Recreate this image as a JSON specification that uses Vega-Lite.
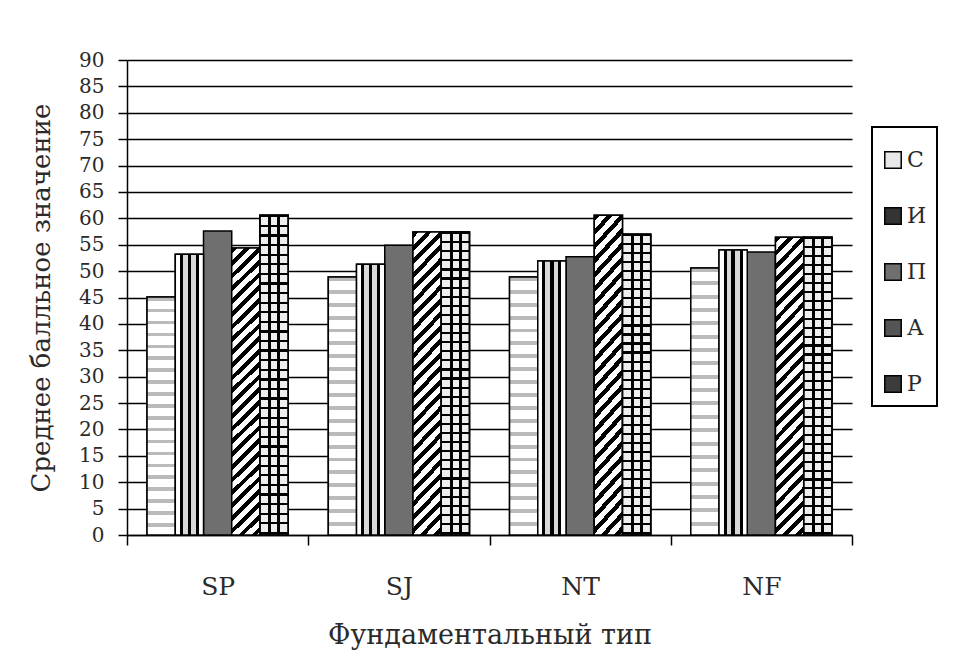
{
"$schema": "https://vega.github.io/schema/vega-lite/v6.json",
"width": 725,
"height": 475,
"autosize": "none",
"padding": {"left": 127, "top": 60, "right": 111, "bottom": 129},
"background": "white",
"config": {"view": {"stroke": null}},
"data": {"values": [
{"t": "SP", "s": "С", "v": 45.1}, {"t": "SP", "s": "И", "v": 53.2}, {"t": "SP", "s": "П", "v": 57.6}, {"t": "SP", "s": "А", "v": 54.4}, {"t": "SP", "s": "Р", "v": 60.6},
{"t": "SJ", "s": "С", "v": 48.9}, {"t": "SJ", "s": "И", "v": 51.3}, {"t": "SJ", "s": "П", "v": 54.9}, {"t": "SJ", "s": "А", "v": 57.4}, {"t": "SJ", "s": "Р", "v": 57.4},
{"t": "NT", "s": "С", "v": 48.9}, {"t": "NT", "s": "И", "v": 51.9}, {"t": "NT", "s": "П", "v": 52.7}, {"t": "NT", "s": "А", "v": 60.6}, {"t": "NT", "s": "Р", "v": 57.0},
{"t": "NF", "s": "С", "v": 50.6}, {"t": "NF", "s": "И", "v": 54.0}, {"t": "NF", "s": "П", "v": 53.6}, {"t": "NF", "s": "А", "v": 56.4}, {"t": "NF", "s": "Р", "v": 56.4}
]},
"encoding": {
"x": {"field": "t", "type": "nominal", "sort": ["SP", "SJ", "NT", "NF"],
 "scale": {"paddingInner": 0, "paddingOuter": 0},
 "axis": {"title": "Фундаментальный тип", "tickBand": "extent", "labelAngle": 0, "grid": false,
  "domainColor": "#000", "domainWidth": 1.5, "tickColor": "#000", "tickWidth": 1.5, "tickSize": 10,
  "labelFont": "DejaVu Serif", "labelFontSize": 25, "labelColor": "#2a2a2a", "labelPadding": 29,
  "titleFont": "DejaVu Serif", "titleFontSize": 27, "titleFontWeight": "normal", "titleColor": "#2a2a2a", "titlePadding": 23}},
"xOffset": {"field": "s", "type": "nominal", "sort": ["С", "И", "П", "А", "Р"],
 "scale": {"domain": ["С", "И", "П", "А", "Р"], "paddingInner": 0, "paddingOuter": 0.71}},
"y": {"field": "v", "type": "quantitative", "scale": {"domain": [0, 90], "nice": false},
 "axis": {"title": "Среднее балльное значение", "values": [0,5,10,15,20,25,30,35,40,45,50,55,60,65,70,75,80,85,90],
  "grid": true, "gridColor": "#000", "gridWidth": 1.5, "gridOpacity": 1, "labelOverlap": false,
  "domainColor": "#000", "domainWidth": 1.5, "tickColor": "#000", "tickWidth": 1.5, "tickSize": 9,
  "labelFont": "DejaVu Serif", "labelFontSize": 20, "labelColor": "#2a2a2a", "labelPadding": 14,
  "titleFont": "DejaVu Serif", "titleFontSize": 26, "titleFontWeight": "normal", "titleColor": "#2a2a2a", "titlePadding": 24}}
},
"layer": [
{"mark": {"type": "bar", "stroke": "#000", "strokeWidth": 1.5},
 "encoding": {"fill": {"field": "s", "type": "nominal",
  "scale": {"domain": ["С", "И", "П", "А", "Р"], "range": ["#e8e8e8", "#333333", "#6f6f6f", "#555555", "#3c3c3c"]},
  "legend": {"title": " ", "titleFontSize": 10, "titlePadding": 2, "orient": "none", "legendX": 745, "legendY": 67,
   "strokeColor": "#000", "fillColor": "white", "padding": 10,
   "symbolType": "square", "symbolSize": 270, "symbolStrokeColor": "#000", "symbolStrokeWidth": 1.5, "symbolOpacity": 1,
   "labelFont": "DejaVu Serif", "labelFontSize": 22, "labelColor": "#2a2a2a", "labelOffset": 3, "rowPadding": 32,
   "encode": {"legend": {"update": {"strokeWidth": {"value": 2}}}}}}}},
{"transform": [{"filter": "datum.s === 'С'"}],
 "mark": {"type": "bar", "stroke": "#000", "strokeWidth": 1.5,
  "fill": {"gradient": "linear", "x1": 0, "y1": 0, "x2": 0, "y2": 1, "stops": [
{"offset":0,"color":"#bbb"},{"offset":0.015,"color":"#bbb"},{"offset":0.015,"color":"#fff"},{"offset":0.05,"color":"#fff"},
{"offset":0.05,"color":"#bbb"},{"offset":0.065,"color":"#bbb"},{"offset":0.065,"color":"#fff"},{"offset":0.1,"color":"#fff"},
{"offset":0.1,"color":"#bbb"},{"offset":0.115,"color":"#bbb"},{"offset":0.115,"color":"#fff"},{"offset":0.15,"color":"#fff"},
{"offset":0.15,"color":"#bbb"},{"offset":0.165,"color":"#bbb"},{"offset":0.165,"color":"#fff"},{"offset":0.2,"color":"#fff"},
{"offset":0.2,"color":"#bbb"},{"offset":0.215,"color":"#bbb"},{"offset":0.215,"color":"#fff"},{"offset":0.25,"color":"#fff"},
{"offset":0.25,"color":"#bbb"},{"offset":0.265,"color":"#bbb"},{"offset":0.265,"color":"#fff"},{"offset":0.3,"color":"#fff"},
{"offset":0.3,"color":"#bbb"},{"offset":0.315,"color":"#bbb"},{"offset":0.315,"color":"#fff"},{"offset":0.35,"color":"#fff"},
{"offset":0.35,"color":"#bbb"},{"offset":0.365,"color":"#bbb"},{"offset":0.365,"color":"#fff"},{"offset":0.4,"color":"#fff"},
{"offset":0.4,"color":"#bbb"},{"offset":0.415,"color":"#bbb"},{"offset":0.415,"color":"#fff"},{"offset":0.45,"color":"#fff"},
{"offset":0.45,"color":"#bbb"},{"offset":0.465,"color":"#bbb"},{"offset":0.465,"color":"#fff"},{"offset":0.5,"color":"#fff"},
{"offset":0.5,"color":"#bbb"},{"offset":0.515,"color":"#bbb"},{"offset":0.515,"color":"#fff"},{"offset":0.55,"color":"#fff"},
{"offset":0.55,"color":"#bbb"},{"offset":0.565,"color":"#bbb"},{"offset":0.565,"color":"#fff"},{"offset":0.6,"color":"#fff"},
{"offset":0.6,"color":"#bbb"},{"offset":0.615,"color":"#bbb"},{"offset":0.615,"color":"#fff"},{"offset":0.65,"color":"#fff"},
{"offset":0.65,"color":"#bbb"},{"offset":0.665,"color":"#bbb"},{"offset":0.665,"color":"#fff"},{"offset":0.7,"color":"#fff"},
{"offset":0.7,"color":"#bbb"},{"offset":0.715,"color":"#bbb"},{"offset":0.715,"color":"#fff"},{"offset":0.75,"color":"#fff"},
{"offset":0.75,"color":"#bbb"},{"offset":0.765,"color":"#bbb"},{"offset":0.765,"color":"#fff"},{"offset":0.8,"color":"#fff"},
{"offset":0.8,"color":"#bbb"},{"offset":0.815,"color":"#bbb"},{"offset":0.815,"color":"#fff"},{"offset":0.85,"color":"#fff"},
{"offset":0.85,"color":"#bbb"},{"offset":0.865,"color":"#bbb"},{"offset":0.865,"color":"#fff"},{"offset":0.9,"color":"#fff"},
{"offset":0.9,"color":"#bbb"},{"offset":0.915,"color":"#bbb"},{"offset":0.915,"color":"#fff"},{"offset":0.95,"color":"#fff"},
{"offset":0.95,"color":"#bbb"},{"offset":0.965,"color":"#bbb"},{"offset":0.965,"color":"#fff"},{"offset":1,"color":"#fff"}
]}}},
{"transform": [{"filter": "datum.s === 'И'"}],
 "mark": {"type": "bar", "stroke": "#000", "strokeWidth": 1.5,
  "fill": {"gradient": "linear", "x1": 0, "y1": 0, "x2": 1, "y2": 0, "stops": [
{"offset":0,"color":"#fff"},{"offset":0.16,"color":"#fff"},{"offset":0.16,"color":"#000"},{"offset":0.27,"color":"#000"},
{"offset":0.27,"color":"#d8d8d8"},{"offset":0.44,"color":"#d8d8d8"},{"offset":0.44,"color":"#000"},{"offset":0.56,"color":"#000"},
{"offset":0.56,"color":"#d8d8d8"},{"offset":0.73,"color":"#d8d8d8"},{"offset":0.73,"color":"#000"},{"offset":0.84,"color":"#000"},
{"offset":0.84,"color":"#fff"},{"offset":1,"color":"#fff"}
]}}},
{"transform": [{"filter": "datum.s === 'А'"}],
 "mark": {"type": "bar", "stroke": "#000", "strokeWidth": 1.5,
  "fill": {"gradient": "linear", "x1": 0, "y1": 0, "x2": 0.106, "y2": 1.1, "stops": [
{"offset":0,"color":"#000"},{"offset":0.018,"color":"#000"},{"offset":0.018,"color":"#fff"},{"offset":0.04,"color":"#fff"},
{"offset":0.04,"color":"#000"},{"offset":0.058,"color":"#000"},{"offset":0.058,"color":"#fff"},{"offset":0.08,"color":"#fff"},
{"offset":0.08,"color":"#000"},{"offset":0.098,"color":"#000"},{"offset":0.098,"color":"#fff"},{"offset":0.12,"color":"#fff"},
{"offset":0.12,"color":"#000"},{"offset":0.138,"color":"#000"},{"offset":0.138,"color":"#fff"},{"offset":0.16,"color":"#fff"},
{"offset":0.16,"color":"#000"},{"offset":0.178,"color":"#000"},{"offset":0.178,"color":"#fff"},{"offset":0.2,"color":"#fff"},
{"offset":0.2,"color":"#000"},{"offset":0.218,"color":"#000"},{"offset":0.218,"color":"#fff"},{"offset":0.24,"color":"#fff"},
{"offset":0.24,"color":"#000"},{"offset":0.258,"color":"#000"},{"offset":0.258,"color":"#fff"},{"offset":0.28,"color":"#fff"},
{"offset":0.28,"color":"#000"},{"offset":0.298,"color":"#000"},{"offset":0.298,"color":"#fff"},{"offset":0.32,"color":"#fff"},
{"offset":0.32,"color":"#000"},{"offset":0.338,"color":"#000"},{"offset":0.338,"color":"#fff"},{"offset":0.36,"color":"#fff"},
{"offset":0.36,"color":"#000"},{"offset":0.378,"color":"#000"},{"offset":0.378,"color":"#fff"},{"offset":0.4,"color":"#fff"},
{"offset":0.4,"color":"#000"},{"offset":0.418,"color":"#000"},{"offset":0.418,"color":"#fff"},{"offset":0.44,"color":"#fff"},
{"offset":0.44,"color":"#000"},{"offset":0.458,"color":"#000"},{"offset":0.458,"color":"#fff"},{"offset":0.48,"color":"#fff"},
{"offset":0.48,"color":"#000"},{"offset":0.498,"color":"#000"},{"offset":0.498,"color":"#fff"},{"offset":0.52,"color":"#fff"},
{"offset":0.52,"color":"#000"},{"offset":0.538,"color":"#000"},{"offset":0.538,"color":"#fff"},{"offset":0.56,"color":"#fff"},
{"offset":0.56,"color":"#000"},{"offset":0.578,"color":"#000"},{"offset":0.578,"color":"#fff"},{"offset":0.6,"color":"#fff"},
{"offset":0.6,"color":"#000"},{"offset":0.618,"color":"#000"},{"offset":0.618,"color":"#fff"},{"offset":0.64,"color":"#fff"},
{"offset":0.64,"color":"#000"},{"offset":0.658,"color":"#000"},{"offset":0.658,"color":"#fff"},{"offset":0.68,"color":"#fff"},
{"offset":0.68,"color":"#000"},{"offset":0.698,"color":"#000"},{"offset":0.698,"color":"#fff"},{"offset":0.72,"color":"#fff"},
{"offset":0.72,"color":"#000"},{"offset":0.738,"color":"#000"},{"offset":0.738,"color":"#fff"},{"offset":0.76,"color":"#fff"},
{"offset":0.76,"color":"#000"},{"offset":0.778,"color":"#000"},{"offset":0.778,"color":"#fff"},{"offset":0.8,"color":"#fff"},
{"offset":0.8,"color":"#000"},{"offset":0.818,"color":"#000"},{"offset":0.818,"color":"#fff"},{"offset":0.84,"color":"#fff"},
{"offset":0.84,"color":"#000"},{"offset":0.858,"color":"#000"},{"offset":0.858,"color":"#fff"},{"offset":0.88,"color":"#fff"},
{"offset":0.88,"color":"#000"},{"offset":0.898,"color":"#000"},{"offset":0.898,"color":"#fff"},{"offset":0.92,"color":"#fff"},
{"offset":0.92,"color":"#000"},{"offset":0.938,"color":"#000"},{"offset":0.938,"color":"#fff"},{"offset":0.96,"color":"#fff"},
{"offset":0.96,"color":"#000"},{"offset":0.978,"color":"#000"},{"offset":0.978,"color":"#fff"},{"offset":1,"color":"#fff"}
]}}},
{"transform": [{"filter": "datum.s === 'Р'"}],
 "mark": {"type": "bar", "stroke": "#000", "strokeWidth": 1.5,
  "fill": {"gradient": "linear", "x1": 0, "y1": 0, "x2": 0, "y2": 1, "stops": [
{"offset":0,"color":"#000"},{"offset":0.007,"color":"#000"},{"offset":0.007,"color":"#eee"},{"offset":0.03,"color":"#eee"},
{"offset":0.03,"color":"#000"},{"offset":0.037,"color":"#000"},{"offset":0.037,"color":"#eee"},{"offset":0.06,"color":"#eee"},
{"offset":0.06,"color":"#000"},{"offset":0.067,"color":"#000"},{"offset":0.067,"color":"#eee"},{"offset":0.09,"color":"#eee"},
{"offset":0.09,"color":"#000"},{"offset":0.097,"color":"#000"},{"offset":0.097,"color":"#eee"},{"offset":0.12,"color":"#eee"},
{"offset":0.12,"color":"#000"},{"offset":0.127,"color":"#000"},{"offset":0.127,"color":"#eee"},{"offset":0.15,"color":"#eee"},
{"offset":0.15,"color":"#000"},{"offset":0.157,"color":"#000"},{"offset":0.157,"color":"#eee"},{"offset":0.18,"color":"#eee"},
{"offset":0.18,"color":"#000"},{"offset":0.187,"color":"#000"},{"offset":0.187,"color":"#eee"},{"offset":0.21,"color":"#eee"},
{"offset":0.21,"color":"#000"},{"offset":0.217,"color":"#000"},{"offset":0.217,"color":"#eee"},{"offset":0.24,"color":"#eee"},
{"offset":0.24,"color":"#000"},{"offset":0.247,"color":"#000"},{"offset":0.247,"color":"#eee"},{"offset":0.27,"color":"#eee"},
{"offset":0.27,"color":"#000"},{"offset":0.277,"color":"#000"},{"offset":0.277,"color":"#eee"},{"offset":0.3,"color":"#eee"},
{"offset":0.3,"color":"#000"},{"offset":0.307,"color":"#000"},{"offset":0.307,"color":"#eee"},{"offset":0.33,"color":"#eee"},
{"offset":0.33,"color":"#000"},{"offset":0.337,"color":"#000"},{"offset":0.337,"color":"#eee"},{"offset":0.36,"color":"#eee"},
{"offset":0.36,"color":"#000"},{"offset":0.367,"color":"#000"},{"offset":0.367,"color":"#eee"},{"offset":0.39,"color":"#eee"},
{"offset":0.39,"color":"#000"},{"offset":0.397,"color":"#000"},{"offset":0.397,"color":"#eee"},{"offset":0.42,"color":"#eee"},
{"offset":0.42,"color":"#000"},{"offset":0.427,"color":"#000"},{"offset":0.427,"color":"#eee"},{"offset":0.45,"color":"#eee"},
{"offset":0.45,"color":"#000"},{"offset":0.457,"color":"#000"},{"offset":0.457,"color":"#eee"},{"offset":0.48,"color":"#eee"},
{"offset":0.48,"color":"#000"},{"offset":0.487,"color":"#000"},{"offset":0.487,"color":"#eee"},{"offset":0.51,"color":"#eee"},
{"offset":0.51,"color":"#000"},{"offset":0.517,"color":"#000"},{"offset":0.517,"color":"#eee"},{"offset":0.54,"color":"#eee"},
{"offset":0.54,"color":"#000"},{"offset":0.547,"color":"#000"},{"offset":0.547,"color":"#eee"},{"offset":0.57,"color":"#eee"},
{"offset":0.57,"color":"#000"},{"offset":0.577,"color":"#000"},{"offset":0.577,"color":"#eee"},{"offset":0.6,"color":"#eee"},
{"offset":0.6,"color":"#000"},{"offset":0.607,"color":"#000"},{"offset":0.607,"color":"#eee"},{"offset":0.63,"color":"#eee"},
{"offset":0.63,"color":"#000"},{"offset":0.637,"color":"#000"},{"offset":0.637,"color":"#eee"},{"offset":0.66,"color":"#eee"},
{"offset":0.66,"color":"#000"},{"offset":0.667,"color":"#000"},{"offset":0.667,"color":"#eee"},{"offset":0.69,"color":"#eee"},
{"offset":0.69,"color":"#000"},{"offset":0.697,"color":"#000"},{"offset":0.697,"color":"#eee"},{"offset":0.72,"color":"#eee"},
{"offset":0.72,"color":"#000"},{"offset":0.727,"color":"#000"},{"offset":0.727,"color":"#eee"},{"offset":0.75,"color":"#eee"},
{"offset":0.75,"color":"#000"},{"offset":0.757,"color":"#000"},{"offset":0.757,"color":"#eee"},{"offset":0.78,"color":"#eee"},
{"offset":0.78,"color":"#000"},{"offset":0.787,"color":"#000"},{"offset":0.787,"color":"#eee"},{"offset":0.81,"color":"#eee"},
{"offset":0.81,"color":"#000"},{"offset":0.817,"color":"#000"},{"offset":0.817,"color":"#eee"},{"offset":0.84,"color":"#eee"},
{"offset":0.84,"color":"#000"},{"offset":0.847,"color":"#000"},{"offset":0.847,"color":"#eee"},{"offset":0.87,"color":"#eee"},
{"offset":0.87,"color":"#000"},{"offset":0.877,"color":"#000"},{"offset":0.877,"color":"#eee"},{"offset":0.9,"color":"#eee"},
{"offset":0.9,"color":"#000"},{"offset":0.907,"color":"#000"},{"offset":0.907,"color":"#eee"},{"offset":0.93,"color":"#eee"},
{"offset":0.93,"color":"#000"},{"offset":0.937,"color":"#000"},{"offset":0.937,"color":"#eee"},{"offset":0.96,"color":"#eee"},
{"offset":0.96,"color":"#000"},{"offset":0.967,"color":"#000"},{"offset":0.967,"color":"#eee"},{"offset":0.99,"color":"#eee"},
{"offset":0.99,"color":"#000"},{"offset":0.997,"color":"#000"},{"offset":0.997,"color":"#eee"},{"offset":1,"color":"#eee"}
]}}},
{"transform": [{"filter": "datum.s === 'Р'"}],
 "mark": {"type": "bar", "stroke": "#000", "strokeWidth": 1.5,
  "fill": {"gradient": "linear", "x1": 0, "y1": 0, "x2": 1, "y2": 0, "stops": [
{"offset":0,"color":"rgba(0,0,0,0)"},{"offset":0.3,"color":"rgba(0,0,0,0)"},{"offset":0.3,"color":"#000"},{"offset":0.4,"color":"#000"},
{"offset":0.4,"color":"rgba(0,0,0,0)"},{"offset":0.62,"color":"rgba(0,0,0,0)"},{"offset":0.62,"color":"#000"},{"offset":0.72,"color":"#000"},
{"offset":0.72,"color":"rgba(0,0,0,0)"},{"offset":1,"color":"rgba(0,0,0,0)"}
]}}}
]
}
